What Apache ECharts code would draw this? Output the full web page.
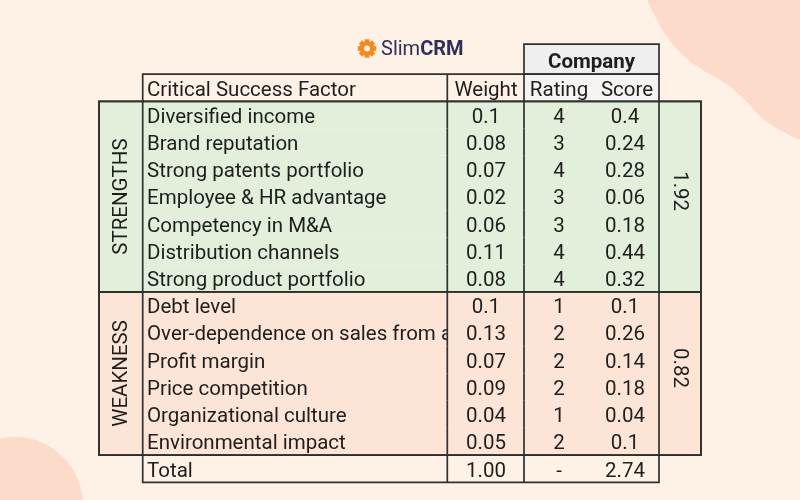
<!DOCTYPE html>
<html><head><meta charset="utf-8">
<script src="https://cdn.jsdelivr.net/npm/echarts@6/dist/echarts.min.js"></script>
<style>html,body{margin:0;padding:0;background:#fef1e6}#c{width:800px;height:500px}</style>
</head><body><div id="c"></div>
<script>
// ---------- data ----------
const factors = [
  'Diversified income', 'Brand reputation', 'Strong patents portfolio',
  'Employee & HR advantage', 'Competency in M&A', 'Distribution channels',
  'Strong product portfolio', 'Debt level', 'Over-dependence on sales from a few customers',
  'Profit margin', 'Price competition', 'Organizational culture', 'Environmental impact'
];
const weights = [0.1, 0.08, 0.07, 0.02, 0.06, 0.11, 0.08, 0.1, 0.13, 0.07, 0.09, 0.04, 0.05];
const ratings = [4, 3, 4, 3, 3, 4, 4, 1, 2, 2, 2, 1, 2];
const scores = [0.4, 0.24, 0.28, 0.06, 0.18, 0.44, 0.32, 0.1, 0.26, 0.14, 0.18, 0.04, 0.1];
const groupNames = ['STRENGTHS', 'WEAKNESS'];
const groupSizes = [7, 6];
const groupTotals = ['1.92', '0.82'];
const headerLabels = ['Critical Success Factor', 'Weight', 'Rating', 'Score'];
const superHeader = 'Company';
const totalLabels = ['Total', '1.00', '-', '2.74'];

// ---------- layout / style ----------
const X = { s0: 99, f: 142.7, w: 447.3, r: 524, e: 659, s1: 701 };
const TX = { factor: 147, weight: 486, rating: 559, scoreHead: 627, score: 625 };
const TY = 0.6; // text baseline offset within a row (row units)
const GROUP_FILL = ['#e2efda', '#fce4d6'];
const LINE = '#303030', LW = 1.7, TXT = '#1e1e1e';
const FONT = 'Roboto, "Noto Sans", sans-serif', FS = 20.5;
const FIRST_ROW = 2;

// build series data from arrays
const rowData = [];
rowData.push([0, 0, 0, 0]);           // company super header
rowData.push([0, 1, 1, 0]);           // column header
factors.forEach((f, i) => rowData.push([0, FIRST_ROW + i, 2, i]));
rowData.push([0, FIRST_ROW + factors.length, 3, 0]); // total
const groupData = [];
let start = FIRST_ROW;
groupSizes.forEach((n, g) => { groupData.push([0, start, g, n]); start += n; });
function groupOf(i) { let s = 0; for (let g = 0; g < groupSizes.length; g++) { s += groupSizes[g]; if (i < s) return g; } return 0; }

function helpers(api) {
  const P = (x, y) => api.coord([x, y]);
  return {
    rect(x0, x1, y0, y1, style, z2) {
      const a = P(x0, y0), b = P(x1, y1);
      return { type: 'rect', shape: { x: a[0], y: a[1], width: b[0] - a[0], height: b[1] - a[1] }, style, z2 };
    },
    vline(x, y0, y1) {
      const a = P(x, y0), b = P(x, y1);
      return { type: 'line', shape: { x1: a[0], y1: a[1], x2: b[0], y2: b[1] }, style: { stroke: LINE, lineWidth: LW }, z2: 10 };
    },
    text(str, x, y, align, extra, z2, rot) {
      const p = P(x, y);
      return { type: 'text', x: p[0], y: p[1], rotation: rot || 0, z2: z2 || 5,
        style: Object.assign({ text: str, fill: TXT, fontSize: FS, fontFamily: FONT, align, verticalAlign: 'middle' }, extra || {}) };
    }
  };
}
const outline = { fill: 'none', stroke: LINE, lineWidth: LW };

function renderRow(params, api) {
  const H = helpers(api);
  const y = api.value(1), kind = api.value(2), i = api.value(3);
  const ch = [];
  if (kind === 0) {
    ch.push(H.rect(X.r, X.e, y - 0.1, y + 1, { fill: '#efefef', stroke: LINE, lineWidth: LW }, 10));
    ch.push(H.text(superHeader, (X.r + X.e) / 2, y + 0.6, 'center', { fontWeight: 'bold' }, 11));
  } else if (kind === 1) {
    ch.push(H.rect(X.r, X.e, y, y + 1, { fill: '#f6f4f2' }, 0));
    ch.push(H.rect(X.f, X.e, y, y + 1, outline, 10));
    ch.push(H.vline(X.w, y, y + 1), H.vline(X.r, y, y + 1));
    ch.push(H.text(headerLabels[0], TX.factor, y + TY, 'left'));
    ch.push(H.text(headerLabels[1], TX.weight, y + TY, 'center'));
    ch.push(H.text(headerLabels[2], TX.rating, y + TY, 'center'));
    ch.push(H.text(headerLabels[3], TX.scoreHead, y + TY, 'center'));
  } else if (kind === 2) {
    const fill = GROUP_FILL[groupOf(i)];
    ch.push(H.rect(X.f, X.e, y, y + 1, { fill }, 0));
    ch.push(H.text(factors[i], TX.factor, y + TY, 'left', null, 1));
    ch.push(H.rect(X.w, X.e, y, y + 1, { fill }, 2));
    ch.push(H.text(String(weights[i]), TX.weight, y + TY, 'center'));
    ch.push(H.text(String(ratings[i]), TX.rating, y + TY, 'center'));
    ch.push(H.text(String(scores[i]), TX.score, y + TY, 'center'));
    ch.push(H.vline(X.w, y, y + 1), H.vline(X.r, y, y + 1));
  } else {
    ch.push(H.rect(X.f, X.e, y, y + 1, outline, 10));
    ch.push(H.vline(X.w, y, y + 1), H.vline(X.r, y, y + 1));
    ch.push(H.text(totalLabels[0], TX.factor, y + TY, 'left'));
    ch.push(H.text(totalLabels[1], TX.weight, y + TY, 'center'));
    ch.push(H.text(totalLabels[2], TX.rating, y + TY, 'center'));
    ch.push(H.text(totalLabels[3], TX.score, y + TY, 'center'));
  }
  return { type: 'group', children: ch };
}

function renderGroup(params, api) {
  const H = helpers(api);
  const s = api.value(1), g = api.value(2), n = api.value(3);
  const fill = GROUP_FILL[g], e = s + n, mid = s + n / 2;
  return { type: 'group', children: [
    H.rect(X.s0, X.f, s, e, { fill }, 0),
    H.rect(X.e, X.s1, s, e, { fill }, 0),
    H.rect(X.s0, X.f, s, e, outline, 10),
    H.rect(X.e, X.s1, s, e, outline, 10),
    H.rect(X.s0, X.s1, s, e, outline, 10),
    H.text(groupNames[g], (X.s0 + X.f) / 2 + 1, mid, 'center', null, 5, Math.PI / 2),
    H.text(groupTotals[g], (X.e + X.s1) / 2 - 1, mid - 0.2, 'center', null, 5, -Math.PI / 2)
  ]};
}

// decorative gear for logo
const gearTeeth = [0, 1, 2, 3].map(k => ({ type: 'rect', rotation: k * Math.PI / 4, shape: { x: -2.4, y: -9.2, width: 4.8, height: 18.4 }, style: { fill: '#f58a1f' } }));

const chart = echarts.init(document.getElementById('c'), null, { renderer: 'canvas' });
chart.setOption({
  backgroundColor: '#fef1e6',
  animation: false,
  grid: { left: 0, right: 0, top: 19.7, bottom: 4.1 },
  xAxis: { type: 'value', min: 0, max: 800, show: false },
  yAxis: { type: 'value', min: -1, max: 16.5, inverse: true, show: false },
  graphic: [
    { type: 'polygon', z: -10, silent: true, shape: { smooth: 0.35, points: [[650, -2], [656, 18], [668, 38], [686, 58], [706, 72], [728, 85], [746, 101], [762, 118], [780, 130], [802, 137], [802, -2]] }, style: { fill: '#fddbca' } },
    { type: 'circle', z: -10, silent: true, shape: { cx: 15, cy: 505, r: 68 }, style: { fill: '#fddbca' } },
    { type: 'group', x: 367, y: 48.5, children: gearTeeth.concat([
      { type: 'circle', shape: { cx: 0, cy: 0, r: 7.2 }, style: { fill: '#f58a1f' } },
      { type: 'circle', shape: { cx: 0, cy: 0, r: 3 }, style: { fill: '#fef1e6' } }
    ]) },
    { type: 'text', x: 381, y: 50, style: { text: '{a|Slim}{b|CRM}', verticalAlign: 'middle', rich: {
      a: { fontSize: 20, fontFamily: FONT, fill: '#2d3057', color: '#2d3057' },
      b: { fontSize: 20, fontFamily: FONT, fontWeight: 'bold', fill: '#2d3057', color: '#2d3057' } } } }
  ],
  series: [
    { type: 'custom', coordinateSystem: 'cartesian2d', renderItem: renderGroup, data: groupData, encode: { x: 0, y: 1 }, silent: true },
    { type: 'custom', coordinateSystem: 'cartesian2d', renderItem: renderRow, data: rowData, encode: { x: 0, y: 1 }, silent: true, clip: false }
  ]
});
</script></body></html>
